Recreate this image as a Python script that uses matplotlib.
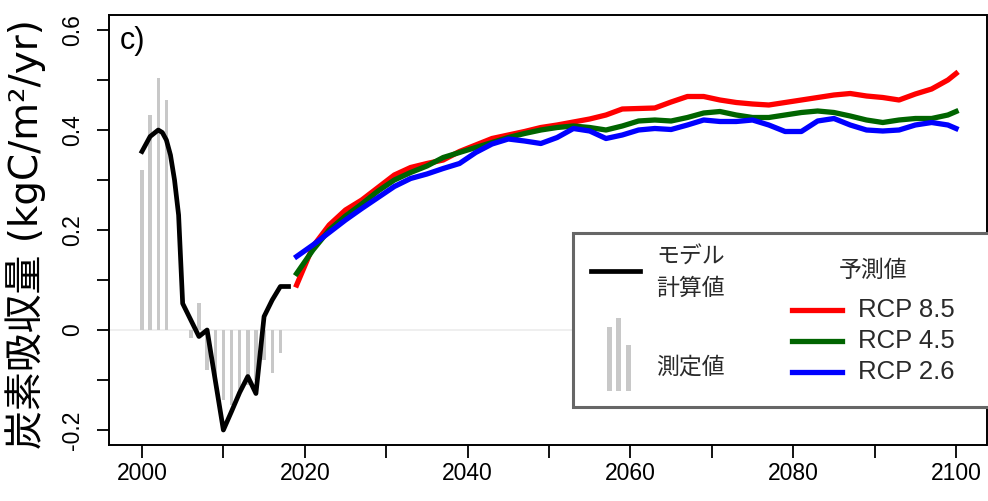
import numpy as np
import matplotlib
matplotlib.use("Agg")
import matplotlib.pyplot as plt
from matplotlib.patches import Rectangle

plt.rcParams['font.family'] = ['Liberation Sans', 'Noto Sans CJK JP', 'DejaVu Sans']

# Observed annual carbon uptake (NaN = no measurement)
obs_years = list(range(2000, 2018))
obs_values = [0.32, 0.43, 0.503, 0.459, np.nan, np.nan, -0.015, 0.055,
              -0.08, -0.11, -0.14, -0.15, -0.12, -0.11, -0.10, -0.06,
              -0.085, -0.045]

# Model hindcast
model_years = [2000, 2001, 2002, 2002.5, 2003, 2003.5, 2004, 2004.5, 2005,
               2006, 2007, 2008, 2009, 2010, 2011, 2012, 2013, 2014, 2015,
               2016, 2017, 2018]
model_values = [0.357, 0.387, 0.400, 0.395, 0.380, 0.35, 0.30, 0.23, 0.053,
                0.02, -0.013, 0.0, -0.10, -0.20, -0.163, -0.125, -0.093,
                -0.127, 0.027, 0.06, 0.087, 0.087]

# Projections
proj_years = [2019] + list(range(2021, 2100, 2)) + [2100]
rcp85 = [0.09, 0.167, 0.21, 0.24, 0.26, 0.285, 0.31, 0.325, 0.333, 0.34,
         0.357, 0.37, 0.383, 0.39, 0.397, 0.405, 0.41, 0.416, 0.422, 0.43,
         0.442, 0.443, 0.444, 0.456, 0.467, 0.467, 0.46, 0.455, 0.452, 0.45,
         0.455, 0.46, 0.465, 0.47, 0.473, 0.468, 0.465, 0.46, 0.472, 0.482,
         0.5, 0.513]
rcp45 = [0.113, 0.16, 0.2, 0.228, 0.252, 0.278, 0.3, 0.315, 0.328, 0.345,
         0.355, 0.365, 0.375, 0.385, 0.393, 0.4, 0.405, 0.408, 0.405, 0.4,
         0.408, 0.418, 0.42, 0.418, 0.425, 0.434, 0.437, 0.43, 0.425, 0.425,
         0.43, 0.435, 0.438, 0.435, 0.428, 0.42, 0.415, 0.42, 0.423, 0.423,
         0.43, 0.437]
rcp26 = [0.147, 0.17, 0.195, 0.22, 0.243, 0.265, 0.287, 0.303, 0.312, 0.323,
         0.333, 0.355, 0.372, 0.382, 0.378, 0.373, 0.385, 0.403, 0.398, 0.383,
         0.39, 0.40, 0.403, 0.401, 0.41, 0.42, 0.417, 0.417, 0.42, 0.41,
         0.397, 0.397, 0.418, 0.423, 0.41, 0.40, 0.398, 0.40, 0.41, 0.415,
         0.41, 0.403]

x_major = [2000, 2020, 2040, 2060, 2080, 2100]
y_major = [-0.2, 0, 0.2, 0.4, 0.6]

W, H = 988, 501
fig = plt.figure(figsize=(W / 100, H / 100), dpi=100)
ax_l, ax_r, ax_t, ax_b = 109.4, 986.5, 15, 445
ax = fig.add_axes([ax_l / W, 1 - ax_b / H, (ax_r - ax_l) / W, (ax_b - ax_t) / H])
ax.set_xlim(1996, 2103.74)
ax.set_ylim(-0.23, 0.63)

ax.axhline(0, color='#ececec', lw=1.2, zorder=0)
ax.bar(obs_years, obs_values, width=0.42, color='#c8c8c8', zorder=1)
ax.plot(model_years, model_values, color='black', lw=3.4, zorder=3,
        solid_joinstyle='round')
ax.plot(proj_years, rcp85, color='#ff0000', lw=3.8, zorder=3)
ax.plot(proj_years, rcp45, color='#006400', lw=3.8, zorder=3)
ax.plot(proj_years, rcp26, color='#0000ff', lw=3.8, zorder=4)

# Axes styling
for s in ax.spines.values():
    s.set_linewidth(1.4)
xt = list(range(2000, 2101, 10))
ax.set_xticks(xt)
ax.set_xticklabels([str(y) if y in x_major else '' for y in xt], fontsize=16.5)
yt = [round(v, 1) for v in np.arange(-0.2, 0.61, 0.1)]
ax.set_yticks(yt)
ax.set_yticklabels([('%g' % v) if v in y_major else '' for v in yt],
                   rotation=90, va='center', fontsize=16.5)
ax.tick_params(axis='both', length=9, width=1.3, colors='black')
ax.tick_params(axis='x', pad=3)
ax.tick_params(axis='y', pad=9)
ax.set_ylabel('炭素吸収量 (kgC/m²/yr)', fontsize=28, va='center',
              family=['DejaVu Sans', 'Noto Sans CJK JP'])
ax.yaxis.set_label_coords(-0.095, 0.49)

ax.text(0.012, 0.975, 'c)', transform=ax.transAxes, fontsize=22,
        va='top', ha='left')


def fx(px):
    return (px - ax_l) / (ax_r - ax_l)


def fy(py):
    return (ax_b - py) / (ax_b - ax_t)


# Legend panel
box = Rectangle((fx(573), fy(407)), fx(1010) - fx(573), fy(233) - fy(407),
                transform=ax.transAxes, facecolor='white', edgecolor='#666666',
                lw=2.2, zorder=5, clip_on=False)
ax.add_patch(box)
tkw = dict(transform=ax.transAxes, zorder=6, color='#2a2a2a')
ax.plot([fx(591), fx(640)], [fy(271), fy(271)], color='black', lw=3.4,
        transform=ax.transAxes, zorder=6, clip_on=False)
ax.text(fx(656), fy(257), 'モデル', fontsize=16.5, va='center', ha='left', **tkw)
ax.text(fx(656), fy(288), '計算値', fontsize=16.5, va='center', ha='left', **tkw)
for bx, top in [(609, 327), (618, 318), (628, 345)]:
    ax.add_patch(Rectangle((fx(bx - 2.5), fy(391)), fx(bx + 2.5) - fx(bx - 2.5),
                           fy(top) - fy(391), transform=ax.transAxes,
                           facecolor='#c8c8c8', edgecolor='none', zorder=6))
ax.text(fx(656), fy(367), '測定値', fontsize=16.5, va='center', ha='left', **tkw)
ax.text(fx(839), fy(270), '予測値', fontsize=16.5, va='center', ha='left', **tkw)
for py, col, lab in [(310, '#ff0000', 'RCP 8.5'), (341, '#006400', 'RCP 4.5'),
                     (372, '#0000ff', 'RCP 2.6')]:
    ax.plot([fx(792), fx(842)], [fy(py), fy(py)], color=col, lw=3.8,
            transform=ax.transAxes, zorder=6)
    ax.text(fx(858), fy(py), lab, fontsize=18.5, va='center', ha='left', **tkw)

fig.savefig('out.png', dpi=100)
